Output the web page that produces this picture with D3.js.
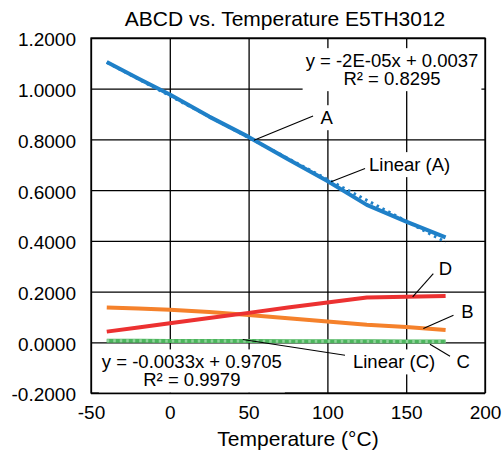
<!doctype html>
<html lang='en'>
<head>
<meta charset='utf-8'>
<title>ABCD vs. Temperature E5TH3012</title>
<script src='https://d3js.org/d3.v7.min.js'></script>
<style>
  body { margin: 0; background: #fff; }
  svg { display: block; font-family: 'Liberation Sans', Arial, Helvetica, sans-serif; }
</style>
</head>
<body>
<svg width='502' height='453'></svg>
<script>
  // data
  var temps   = [-40, -20, 0, 25, 50, 75, 100, 125, 150, 175];
  var seriesA = [1.105, 1.040, 0.977, 0.890, 0.810, 0.722, 0.636, 0.542, 0.476, 0.414];
  var seriesB = [0.137, 0.133, 0.128, 0.119, 0.108, 0.095, 0.082, 0.069, 0.060, 0.048];
  var seriesC = [0.006, 0.006, 0.005, 0.005, 0.005, 0.004, 0.004, 0.004, 0.003, 0.003];
  var seriesD = [0.042, 0.058, 0.075, 0.096, 0.116, 0.137, 0.157, 0.177, 0.180, 0.183];
  var xTicks = [-50, 0, 50, 100, 150, 200];
  var yTicks = [-0.2, 0, 0.2, 0.4, 0.6, 0.8, 1.0, 1.2];
  var eqTop = ['y = -2E-05x + 0.0037', 'R\u00b2 = 0.8295'];
  var eqBottom = ['y = -0.0033x + 0.9705', 'R\u00b2 = 0.9979'];

  var svg = d3.select('svg'),
      margin = {top: 38, right: 17, bottom: 60, left: 91},
      width = +svg.attr('width') - margin.left - margin.right,
      height = +svg.attr('height') - margin.top - margin.bottom,
      g = svg.append('g').attr('transform', 'translate(' + margin.left + ',' + margin.top + ')');

  var x = d3.scaleLinear().domain([-50, 200]).range([0, width]);
  var y = d3.scaleLinear().domain([-0.2, 1.2]).range([height, 0]);

  var loc = d3.formatLocale({decimal: '.', thousands: ',', grouping: [3], currency: ['', ''], minus: '-'});

  svg.append('text')
    .attr('x', 285).attr('y', 26)
    .attr('text-anchor', 'middle')
    .attr('font-size', 21)
    .attr('fill', '#000')
    .text('ABCD vs. Temperature E5TH3012');

  // grid + tick labels
  var xAxis = g.append('g')
    .attr('transform', 'translate(0,' + height + ')')
    .call(d3.axisBottom(x).tickValues(xTicks).tickSize(-height).tickPadding(13).tickFormat(loc.format('d')));
  var yAxis = g.append('g')
    .call(d3.axisLeft(y).tickValues(yTicks).tickSize(-width).tickPadding(15).tickFormat(loc.format('.4f')));
  [xAxis, yAxis].forEach(function(a) {
    a.attr('font-family', null).attr('font-size', null);
    a.select('.domain').remove();
    a.selectAll('line').attr('stroke', '#000').attr('stroke-width', 1.3);
    a.selectAll('text').attr('font-size', 19).attr('fill', '#000');
  });
  yAxis.selectAll('text').attr('dy', '0.42em');

  g.append('rect')
    .attr('width', width).attr('height', height)
    .attr('fill', 'none').attr('stroke', '#000').attr('stroke-width', 1.3);

  svg.append('text')
    .attr('x', 298).attr('y', 446)
    .attr('text-anchor', 'middle')
    .attr('font-size', 21)
    .text('Temperature (\u00b0C)');

  var boxLayer = g.append('g');
  var lineLayer = g.append('g');
  var textLayer = g.append('g');

  var colors = {A: '#1f80c8', B: '#f5812b', C: '#4cb55d', D: '#ec3131'};
  var series = [
    {key: 'A', values: seriesA},
    {key: 'B', values: seriesB},
    {key: 'C', values: seriesC},
    {key: 'D', values: seriesD}
  ];

  var line = d3.line()
    .x(function(d) { return x(d[0]); })
    .y(function(d) { return y(d[1]); });

  series.forEach(function(s) {
    lineLayer.append('path')
      .datum(temps.map(function(t, i) { return [t, s.values[i]]; }))
      .attr('fill', 'none')
      .attr('stroke', colors[s.key])
      .attr('stroke-width', 4)
      .attr('stroke-linejoin', 'round')
      .attr('d', line);
  });

  // linear trendlines (least squares), dotted
  function fit(vals) {
    var mx = d3.mean(temps), my = d3.mean(vals);
    var sxy = d3.sum(temps, function(t, i) { return (t - mx) * (vals[i] - my); });
    var sxx = d3.sum(temps, function(t) { return (t - mx) * (t - mx); });
    var m = sxy / sxx;
    return function(t) { return m * t + (my - m * mx); };
  }
  [{vals: seriesA, color: colors.A}, {vals: seriesC, color: '#8fd49a'}].forEach(function(tr) {
    var f = fit(tr.vals);
    var ends = d3.extent(temps);
    lineLayer.append('path')
      .datum(ends.map(function(t) { return [t, f(t)]; }))
      .attr('fill', 'none')
      .attr('stroke', tr.color)
      .attr('stroke-width', 3)
      .attr('stroke-dasharray', '2.5 4')
      .attr('d', line);
  });

  // labels: position in data units, leader from/to in data units
  var labels = [
    {lines: eqTop, t: 141, v: 1.085, anchor: 'middle'},
    {lines: eqBottom, t: 14, v: -0.103, anchor: 'middle'},
    {lines: ['A'], t: 99.5, v: 0.860, anchor: 'middle', leader: [53.4, 0.797, 90.9, 0.892]},
    {lines: ['Linear (A)'], t: 126.4, v: 0.675, anchor: 'start', leader: [102.3, 0.633, 123.9, 0.685]},
    {lines: ['D'], t: 174.9, v: 0.264, anchor: 'middle', leader: [154.1, 0.179, 167.2, 0.271]},
    {lines: ['B'], t: 188.9, v: 0.095, anchor: 'middle', leader: [160.9, 0.054, 180, 0.107]},
    {lines: ['C'], t: 186.2, v: -0.103, anchor: 'middle', leader: [165.1, -0.008, 177.8, -0.055]},
    {lines: ['Linear (C)'], t: 142.3, v: -0.103, anchor: 'middle', leader: [46.3, 0.011, 111.2, -0.051]}
  ];

  labels.forEach(function(l) {
    var txt = textLayer.append('text')
      .attr('x', x(l.t)).attr('y', y(l.v))
      .attr('text-anchor', l.anchor)
      .attr('font-size', 18.5)
      .attr('fill', '#000');
    l.lines.forEach(function(s, i) {
      txt.append('tspan').attr('x', x(l.t)).attr('dy', i ? 18 : 0).text(s);
    });
    var b = txt.node().getBBox();
    boxLayer.append('rect')
      .attr('x', b.x - 3).attr('y', b.y - 2)
      .attr('width', b.width + 6).attr('height', b.height + 4)
      .attr('fill', '#fff');
    if (l.leader) {
      textLayer.append('line')
        .attr('x1', x(l.leader[0])).attr('y1', y(l.leader[1]))
        .attr('x2', x(l.leader[2])).attr('y2', y(l.leader[3]))
        .attr('stroke', '#000').attr('stroke-width', 1.1);
    }
  });
</script>
</body>
</html>
